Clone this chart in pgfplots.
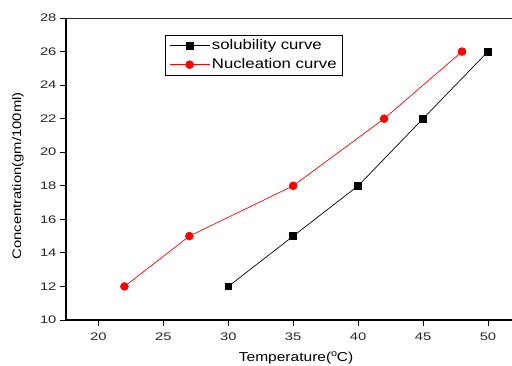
\documentclass[border=0pt]{standalone}
\usepackage{fontspec}
\setmainfont[FakeStretch=1.2]{Liberation Sans}
\newfontfamily\tickfont[FakeStretch=1.35]{Liberation Sans}
\usepackage{pgfplots}
\pgfplotsset{compat=1.18}
\pgfplotsset{
  longline/.style={/pgfplots/legend image code/.code={%
    \draw[mark repeat=2, mark phase=2, line width=0.7pt]
    plot coordinates {(0bp,0bp) (20bp,0bp) (40bp,0bp)};}},
}
\begin{document}
\begin{tikzpicture}
\begin{axis}[
  scale only axis,
  width=446bp, height=302bp,
  xmin=17.5, xmax=51.85,
  ymin=10, ymax=28,
  xtick={20,25,...,50},
  ytick={10,12,...,28},
  axis x line*=bottom,
  axis y line*=left,
  x axis line style={line width=1.3pt, -},
  y axis line style={line width=1.6pt, -},
  tick align=outside,
  major tick length=6bp,
  tick style={black, line width=0.8pt},
  /pgf/number format/assume math mode=true,
  ticklabel style={font=\tickfont\fontsize{11}{12}\selectfont, color=black!85},
  xticklabel style={yshift=-3.5bp},
  xlabel={Temperature($^{\mathrm{o}}$C)},
  ylabel={Concentration(gm/100ml)},
  xlabel style={font=\fontsize{13}{15}\selectfont, at={(rel axis cs:0.5157,-0.1358)}, anchor=base},
  ylabel style={font=\fontsize{12.4}{14}\selectfont, at={(rel axis cs:-0.1076,0.477)}, anchor=center, rotate=0},
  legend style={at={(0.222,0.9437)}, anchor=north west, draw=black, line width=0.6pt,
    font=\fontsize{14}{15}\selectfont, inner xsep=4pt, inner ysep=2.5pt, row sep=3.5pt,
    cells={anchor=west}},
  legend cell align=left,
  every axis plot/.append style={longline},
]
\addplot[black, line width=0.7pt, mark=square*, mark size=3.4pt, mark options={solid}]
  coordinates {(30,12) (35,15) (40,18) (45,22) (50,26)};
\addlegendentry{solubility curve}
\addplot[red, line width=0.7pt, mark=*, mark size=3.9pt, mark options={solid}]
  coordinates {(22,12) (27,15) (35,18) (42,22) (48,26)};
\addlegendentry{Nucleation curve}
\draw[line width=0.8pt, black!85] (rel axis cs:0,1) -- (rel axis cs:1,1);
\coordinate (sw) at (rel axis cs:0,0);
\coordinate (ne) at (rel axis cs:1,1);
\end{axis}
\pgfresetboundingbox
\path[use as bounding box] ([shift={(-66bp,-46bp)}]sw) rectangle ([shift={(0bp,18bp)}]ne);
\end{tikzpicture}
\end{document}
